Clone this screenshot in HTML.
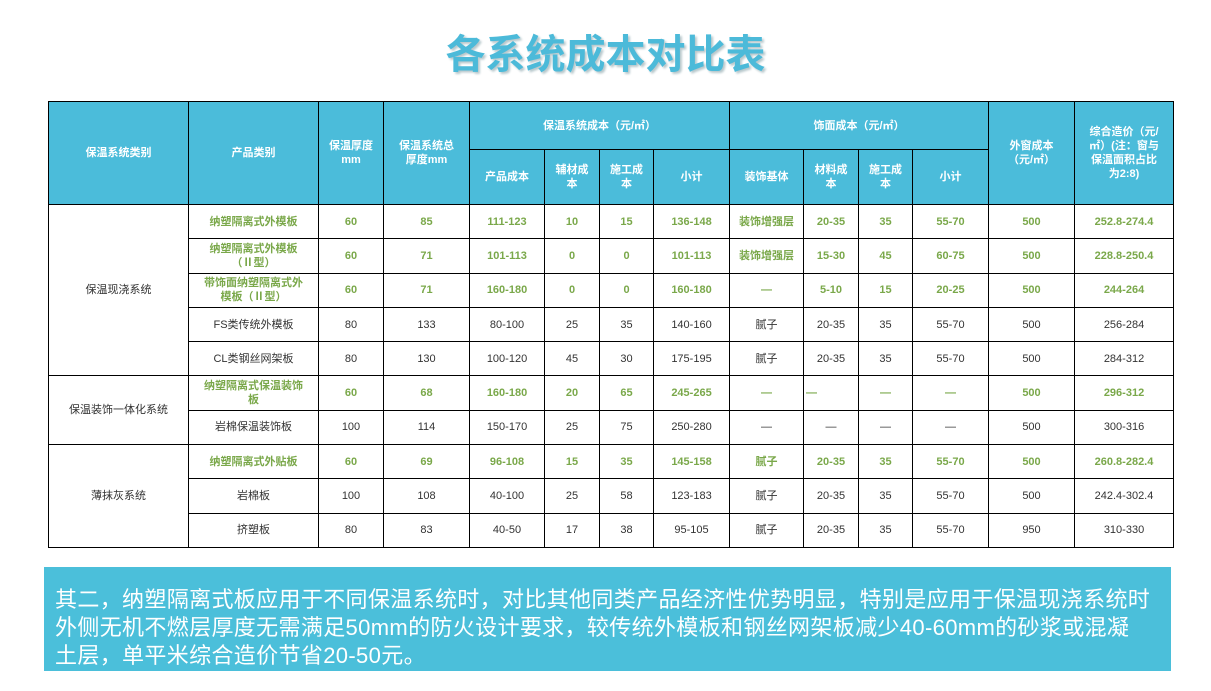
<!DOCTYPE html>
<html><head><meta charset="utf-8"><style>
body{margin:0;width:1211px;height:691px;background:#fff;position:relative;overflow:hidden;font-family:"Liberation Sans","Noto Sans CJK SC",sans-serif}
.title{position:absolute;left:0;width:1211px;top:30px;text-align:center;font-size:40px;font-weight:bold;color:#4cbad9;text-shadow:2px 2px 2px #b8c8cc;letter-spacing:0px;line-height:50px}
table{position:absolute;left:48px;top:101px;border-collapse:collapse;table-layout:fixed;width:1125px}
td{border:1px solid #000;text-align:center;font-size:11px;color:#333;padding:0 2px;line-height:14px;overflow:hidden}
tr.h td{background:#4bbcda;color:#fff;font-weight:bold;font-size:11px}
tr.r td{height:33.3px}
.g{color:#7aa84a;font-weight:bold}
.box{position:absolute;left:44px;top:567px;width:1127px;height:104px;background:#4bbfda;color:#fff;font-size:22px;letter-spacing:0.35px;line-height:28px;box-sizing:border-box;padding:19px 0 0 11px;white-space:nowrap}
</style></head><body>
<div class="title">各系统成本对比表</div>
<table>
<colgroup><col style="width:140px"><col style="width:130px"><col style="width:65px"><col style="width:86px"><col style="width:75px"><col style="width:55px"><col style="width:54px"><col style="width:76px"><col style="width:74px"><col style="width:55px"><col style="width:54px"><col style="width:76px"><col style="width:86px"><col style="width:99px"></colgroup>
<tr class="h" style="height:48px"><td rowspan="2">保温系统类别</td><td rowspan="2">产品类别</td><td rowspan="2">保温厚度<br>mm</td><td rowspan="2">保温系统总<br>厚度mm</td><td colspan="4">保温系统成本（元/㎡）</td><td colspan="4">饰面成本（元/㎡）</td><td rowspan="2">外窗成本<br>（元/㎡）</td><td rowspan="2">综合造价（元/<br>㎡）(注：窗与<br>保温面积占比<br>为2:8)</td></tr>
<tr class="h" style="height:55px"><td>产品成本</td><td>辅材成<br>本</td><td>施工成<br>本</td><td>小计</td><td>装饰基体</td><td>材料成<br>本</td><td>施工成<br>本</td><td>小计</td></tr>
<tr class="r g"><td rowspan="5" style="color:#333;font-weight:normal">保温现浇系统</td><td class="g">纳塑隔离式外模板</td><td class="g">60</td><td class="g">85</td><td class="g">111-123</td><td class="g">10</td><td class="g">15</td><td class="g">136-148</td><td class="g">装饰增强层</td><td class="g">20-35</td><td class="g">35</td><td class="g">55-70</td><td class="g">500</td><td class="g">252.8-274.4</td></tr>
<tr class="r"><td class="g">纳塑隔离式外模板<br>（Ⅱ型）</td><td class="g">60</td><td class="g">71</td><td class="g">101-113</td><td class="g">0</td><td class="g">0</td><td class="g">101-113</td><td class="g">装饰增强层</td><td class="g">15-30</td><td class="g">45</td><td class="g">60-75</td><td class="g">500</td><td class="g">228.8-250.4</td></tr>
<tr class="r"><td class="g">带饰面纳塑隔离式外<br>模板（Ⅱ型）</td><td class="g">60</td><td class="g">71</td><td class="g">160-180</td><td class="g">0</td><td class="g">0</td><td class="g">160-180</td><td class="g">—</td><td class="g">5-10</td><td class="g">15</td><td class="g">20-25</td><td class="g">500</td><td class="g">244-264</td></tr>
<tr class="r"><td>FS类传统外模板</td><td>80</td><td>133</td><td>80-100</td><td>25</td><td>35</td><td>140-160</td><td>腻子</td><td>20-35</td><td>35</td><td>55-70</td><td>500</td><td>256-284</td></tr>
<tr class="r"><td>CL类钢丝网架板</td><td>80</td><td>130</td><td>100-120</td><td>45</td><td>30</td><td>175-195</td><td>腻子</td><td>20-35</td><td>35</td><td>55-70</td><td>500</td><td>284-312</td></tr>
<tr class="r"><td rowspan="2">保温装饰一体化系统</td><td class="g">纳塑隔离式保温装饰<br>板</td><td class="g">60</td><td class="g">68</td><td class="g">160-180</td><td class="g">20</td><td class="g">65</td><td class="g">245-265</td><td class="g">—</td><td class="g" style="text-align:left">—</td><td class="g">—</td><td class="g">—</td><td class="g">500</td><td class="g">296-312</td></tr>
<tr class="r"><td>岩棉保温装饰板</td><td>100</td><td>114</td><td>150-170</td><td>25</td><td>75</td><td>250-280</td><td>—</td><td>—</td><td>—</td><td>—</td><td>500</td><td>300-316</td></tr>
<tr class="r"><td rowspan="3">薄抹灰系统</td><td class="g">纳塑隔离式外贴板</td><td class="g">60</td><td class="g">69</td><td class="g">96-108</td><td class="g">15</td><td class="g">35</td><td class="g">145-158</td><td class="g">腻子</td><td class="g">20-35</td><td class="g">35</td><td class="g">55-70</td><td class="g">500</td><td class="g">260.8-282.4</td></tr>
<tr class="r"><td>岩棉板</td><td>100</td><td>108</td><td>40-100</td><td>25</td><td>58</td><td>123-183</td><td>腻子</td><td>20-35</td><td>35</td><td>55-70</td><td>500</td><td>242.4-302.4</td></tr>
<tr class="r"><td>挤塑板</td><td>80</td><td>83</td><td>40-50</td><td>17</td><td>38</td><td>95-105</td><td>腻子</td><td>20-35</td><td>35</td><td>55-70</td><td>950</td><td>310-330</td></tr>
</table>
<div class="box">其二，纳塑隔离式板应用于不同保温系统时，对比其他同类产品经济性优势明显，特别是应用于保温现浇系统时<br>外侧无机不燃层厚度无需满足50mm的防火设计要求，较传统外模板和钢丝网架板减少40-60mm的砂浆或混凝<br>土层，单平米综合造价节省20-50元。</div>
</body></html>
